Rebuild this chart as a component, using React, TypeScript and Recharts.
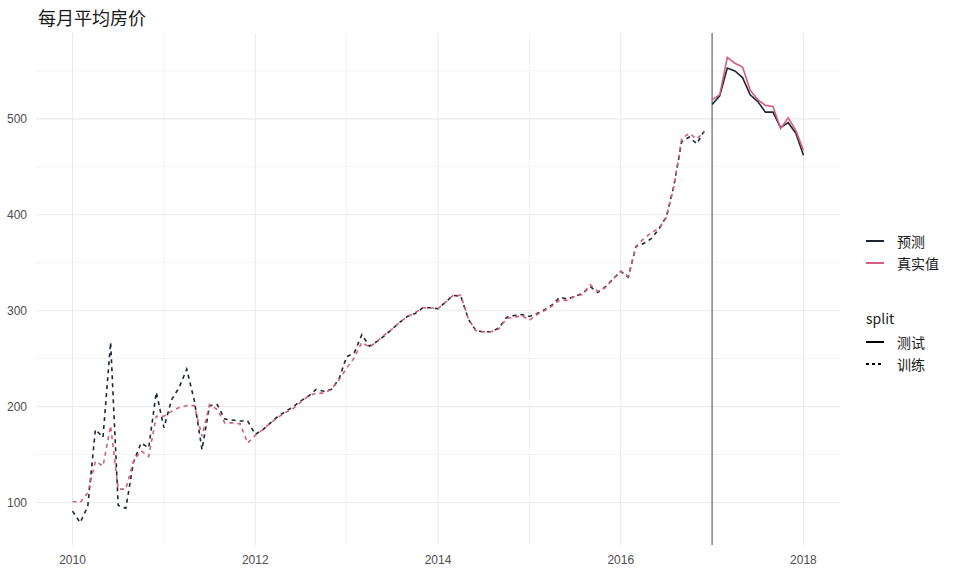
import React from "react";
import { LineChart, Line, XAxis, YAxis, CartesianGrid, ReferenceLine } from "recharts";

// Monthly series starting January 2010
const startYear = 2010;
const trainActual = [
  101, 100, 110, 143, 138, 180, 114, 114, 143, 154, 148, 190,
  190, 195, 199, 201, 201, 169, 202, 197, 183, 183, 182, 162,
  170, 176, 183, 189, 194, 198, 205, 211, 214, 214, 218, 228,
  240, 251, 267, 262, 268, 275, 281, 288, 294, 298, 303, 303,
  302, 309, 316, 316, 291, 279, 278, 278, 281, 292, 293, 295,
  290, 296, 300, 305, 311, 311, 315, 317, 327, 320, 324, 333,
  341, 336, 367, 375, 381, 386, 397, 430, 479, 485, 479, 487,
];
const trainPred = [
  91, 79, 96, 176, 168, 267, 97, 94, 142, 162, 157, 215,
  178, 207, 220, 239, 206, 155, 201, 202, 187, 186, 185, 185,
  171, 176, 183, 190, 195, 200, 206, 211, 218, 216, 218, 229,
  252, 256, 275, 263, 268, 274, 281, 288, 294, 297, 303, 303,
  302, 309, 316, 315, 291, 279, 278, 278, 282, 293, 295, 296,
  294, 297, 301, 306, 314, 312, 315, 318, 325, 319, 325, 333,
  341, 335, 367, 370, 375, 385, 398, 431, 476, 481, 474, 488,
];
const testActual = [520, 525, 564, 558, 554, 530, 520, 514, 513, 490, 501, 488, 467];
const testPred = [515, 524, 553, 550, 543, 525, 518, 507, 507, 491, 496, 485, 462];

const xTicks = [2010, 2012, 2014, 2016, 2018];
const xMinor = [2011, 2013, 2015, 2017];
const yTicks = [100, 200, 300, 400, 500];
const yMinor = [150, 250, 350, 450, 550];
const splitDate = 2017;

const title = "每月平均房价";
const seriesNames = ["预测", "真实值"];
const splitTitle = "split";
const splitNames = ["测试", "训练"];

const PRED_COLOR = "#1b2834";
const ACT_COLOR = "#d35f7c";

const data: any[] = [];
trainActual.forEach((v, i) => {
  data.push({ t: startYear + i / 12, actTrain: v, predTrain: trainPred[i] });
});
testActual.forEach((v, i) => {
  data.push({ t: startYear + (trainActual.length + i) / 12, actTest: v, predTest: testPred[i] });
});

const cjk = '"Noto Sans CJK SC", "Liberation Sans", Arial, sans-serif';
const tickStyle = { fill: "#4d4d4d", fontSize: 12, fontFamily: '"Liberation Sans", Arial, sans-serif' };

function Key({ color, dash }: { color: string; dash?: string }) {
  return (
    <svg width={18} height={4} style={{ display: "block" }}>
      <line x1={0} y1={2} x2={18} y2={2} stroke={color} strokeWidth={2} strokeDasharray={dash} />
    </svg>
  );
}

function Row({ top, color, dash, label }: { top: number; color: string; dash?: string; label: string }) {
  return (
    <div style={{ position: "absolute", left: 866, top: top - 10, height: 20, display: "flex", alignItems: "center" }}>
      <Key color={color} dash={dash} />
      <span style={{ marginLeft: 13, fontSize: 14, fontFamily: cjk, color: "#1a1a1a", lineHeight: "20px" }}>{label}</span>
    </div>
  );
}

export default function App() {
  return (
    <div style={{ position: "absolute", left: 0, top: 0, width: 960, height: 576, background: "#fff" }}>
      <div style={{ position: "absolute", left: 38, top: 5, fontSize: 18, fontFamily: cjk, color: "#1a1a1a", lineHeight: "24px" }}>
        {title}
      </div>
      <LineChart width={960} height={576} data={data} margin={{ top: 33, right: 120, bottom: 6, left: 0 }}>
        <CartesianGrid stroke="#ebebeb" strokeWidth={0.6} horizontalValues={yMinor} verticalValues={xMinor} />
        <CartesianGrid stroke="#ebebeb" strokeWidth={1.1} horizontalValues={yTicks} verticalValues={xTicks} />
        <XAxis
          dataKey="t"
          type="number"
          domain={[2009.6, 2018.4]}
          ticks={xTicks}
          axisLine={false}
          tickLine={false}
          tickSize={0}
          tickMargin={10}
          height={25}
          tick={tickStyle}
          allowDataOverflow
        />
        <YAxis
          type="number"
          domain={[55.7, 589.5]}
          ticks={yTicks}
          axisLine={false}
          tickLine={false}
          tickSize={0}
          tickMargin={9}
          width={36}
          tick={tickStyle}
          allowDataOverflow
        />
        <ReferenceLine x={splitDate} stroke="#4d4d4d" strokeWidth={1} />
        <Line dataKey="predTrain" stroke={PRED_COLOR} strokeWidth={1.6} strokeDasharray="4 4" dot={false} isAnimationActive={false} connectNulls={false} />
        <Line dataKey="actTrain" stroke={ACT_COLOR} strokeWidth={1.6} strokeDasharray="4 4" dot={false} isAnimationActive={false} connectNulls={false} />
        <Line dataKey="predTest" stroke={PRED_COLOR} strokeWidth={1.6} dot={false} isAnimationActive={false} connectNulls={false} />
        <Line dataKey="actTest" stroke={ACT_COLOR} strokeWidth={1.6} dot={false} isAnimationActive={false} connectNulls={false} />
      </LineChart>
      <Row top={241} color={PRED_COLOR} label={seriesNames[0]} />
      <Row top={263} color={ACT_COLOR} label={seriesNames[1]} />
      <div style={{ position: "absolute", left: 866, top: 308, fontSize: 14, fontFamily: cjk, color: "#1a1a1a", lineHeight: "20px" }}>
        {splitTitle}
      </div>
      <Row top={342} color="#000" label={splitNames[0]} />
      <Row top={364} color="#000" dash="3 3" label={splitNames[1]} />
    </div>
  );
}
